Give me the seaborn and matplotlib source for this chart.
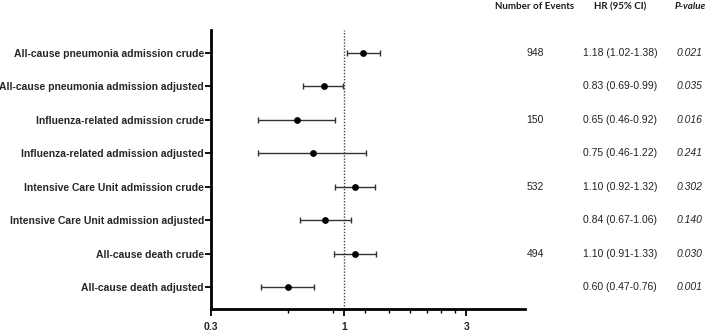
import numpy as np
import pandas as pd
import seaborn as sns
import matplotlib
matplotlib.use("Agg")
import matplotlib.pyplot as plt
from matplotlib.ticker import FixedLocator, NullFormatter

labels = ["All-cause pneumonia admission crude",
          "All-cause pneumonia admission adjusted",
          "Influenza-related admission crude",
          "Influenza-related admission adjusted",
          "Intensive Care Unit admission crude",
          "Intensive Care Unit admission adjusted",
          "All-cause death crude",
          "All-cause death adjusted"]
hr = [1.18, 0.83, 0.65, 0.75, 1.10, 0.84, 1.10, 0.60]
lo = [1.02, 0.69, 0.46, 0.46, 0.92, 0.67, 0.91, 0.47]
hi = [1.38, 0.99, 0.92, 1.22, 1.32, 1.06, 1.33, 0.76]
events = ["948", "", "150", "", "532", "", "494", ""]
pvals = ["0.021", "0.035", "0.016", "0.241", "0.302", "0.140", "0.030", "0.001"]
major_ticks = [0.3, 1, 3]
minor_ticks = [0.6, 0.9, 1.2, 1.5, 1.8, 2.1, 2.4, 2.7]

sns.set_theme(style="ticks")
plt.rcParams['font.family'] = ['Liberation Sans', 'DejaVu Sans']

df = pd.DataFrame({"label": labels, "hr": hr, "lo": lo, "hi": hi,
                   "pos": np.arange(len(labels))})

fig = plt.figure(figsize=(7.09, 3.32), dpi=100)
ax = fig.add_axes([211/709, 1-309/332, (525-211)/709, (309-30)/332])

ax.errorbar(df["hr"], df["pos"],
            xerr=[df["hr"] - df["lo"], df["hi"] - df["hr"]],
            fmt="none", ecolor="#333333", elinewidth=1.0, capsize=2.0, capthick=1.0, zorder=2)
sns.scatterplot(data=df, x="hr", y="pos", ax=ax, color="black", s=24,
                edgecolor="black", linewidth=0, zorder=3, legend=False)

ax.set_xscale("log")
ax.set_xlim(0.3, 5.1)
ax.set_ylim(7.66, -0.69)
ax.axvline(1, color="#444444", linestyle=(0, (1.0, 1.2)), linewidth=1.0, zorder=1)

ax.xaxis.set_major_locator(FixedLocator(major_ticks))
ax.set_xticklabels(["0.3", "1", "3"], fontweight="bold", fontsize=7.5)
ax.xaxis.set_minor_locator(FixedLocator(minor_ticks))
ax.xaxis.set_minor_formatter(NullFormatter())
ax.tick_params(axis="x", which="major", length=5, width=1.3, color="black", pad=4)
ax.tick_params(axis="x", which="minor", length=3, width=1.0, color="black")

ax.set_yticks(df["pos"])
ax.set_yticklabels(labels, fontweight="bold", fontsize=7.5)
ax.tick_params(axis="y", length=4, width=1.3, color="black", pad=1)

ax.set_xlabel("")
ax.set_ylabel("")
for s in ["top", "right"]:
    ax.spines[s].set_visible(False)
for s in ["left", "bottom"]:
    ax.spines[s].set_linewidth(2.0)
    ax.spines[s].set_color("black")

tr = ax.get_yaxis_transform()
hy = -1.38
ax.text(1.032, hy, "Number of Events", transform=tr, ha="center", va="center",
        fontsize=7, fontweight="bold", family=["Lato", "DejaVu Sans"], color="#1a1a1a", clip_on=False)
ax.text(1.303, hy, "HR (95% CI)", transform=tr, ha="center", va="center",
        fontsize=7, fontweight="bold", family=["Lato", "DejaVu Sans"], color="#1a1a1a", clip_on=False)
ax.text(1.525, hy, "P-value", transform=tr, ha="center", va="center",
        fontsize=7, fontweight="bold", fontstyle="italic", family=["Lato", "DejaVu Sans"],
        color="#1a1a1a", clip_on=False)

for i in range(len(labels)):
    if events[i]:
        ax.text(1.032, i, events[i], transform=tr, ha="center", va="center",
                fontsize=7.5, color="#222222", clip_on=False)
    ax.text(1.303, i, f"{hr[i]:.2f} ({lo[i]:.2f}-{hi[i]:.2f})", transform=tr,
            ha="center", va="center", fontsize=7.5, color="#222222", clip_on=False)
    ax.text(1.525, i, pvals[i], transform=tr, ha="center", va="center",
            fontsize=7.5, fontstyle="italic", color="#222222", clip_on=False)

fig.savefig("out.png", dpi=100)
